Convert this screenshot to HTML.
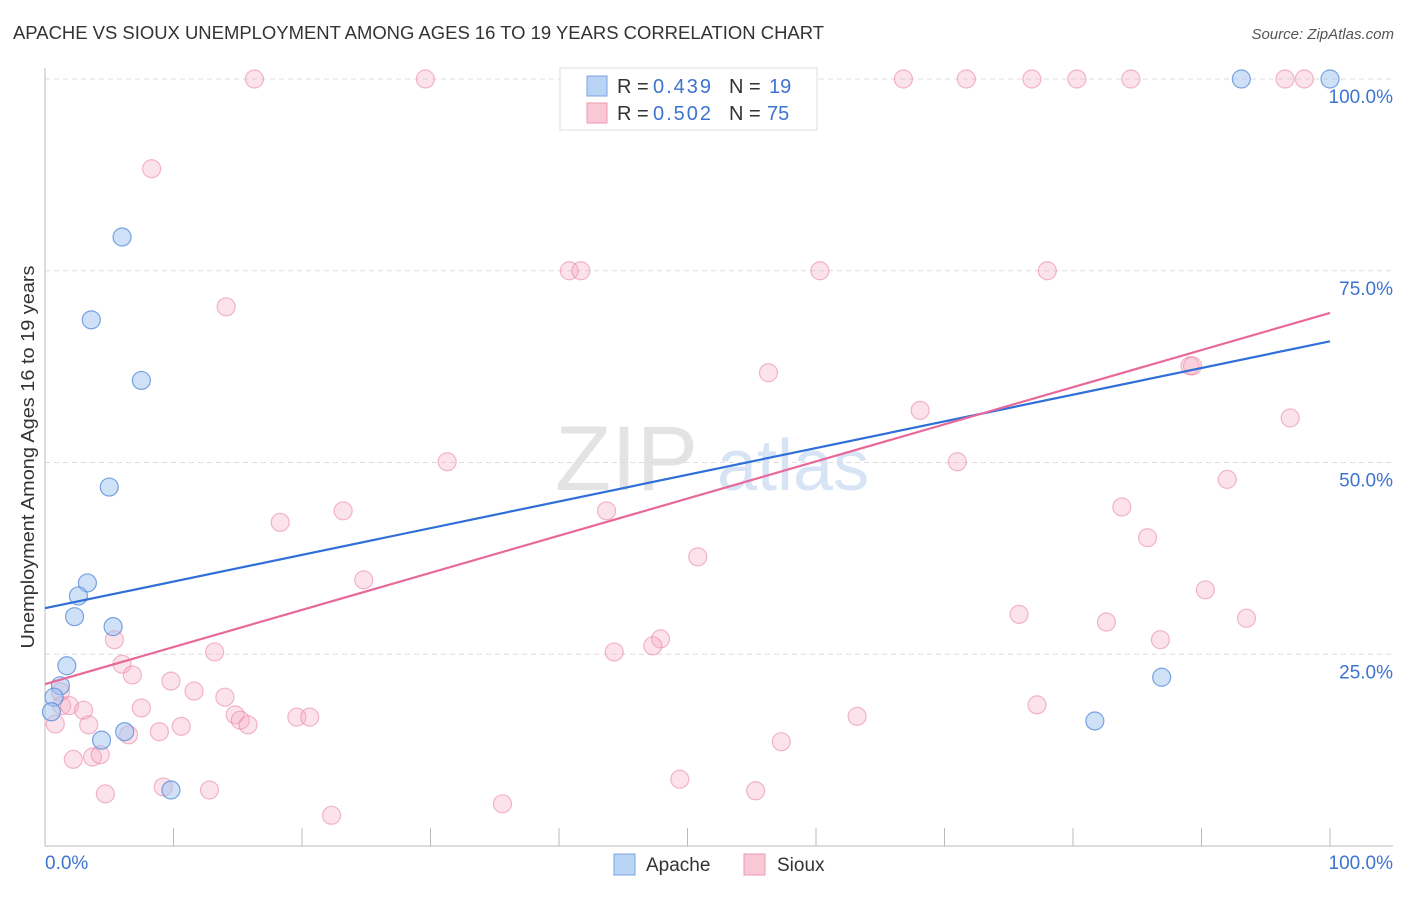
<!DOCTYPE html>
<html><head><meta charset="utf-8"><style>
body{margin:0;background:#fff;font-family:"Liberation Sans",sans-serif;}
svg text{font-family:"Liberation Sans",sans-serif;}
</style></head><body>
<svg id="chart" width="1406" height="892" viewBox="0 0 1406 892" xmlns="http://www.w3.org/2000/svg">
<text x="13" y="39" font-size="18" fill="#333" textLength="811" lengthAdjust="spacingAndGlyphs">APACHE VS SIOUX UNEMPLOYMENT AMONG AGES 16 TO 19 YEARS CORRELATION CHART</text>
<text x="1394" y="39" font-size="15" fill="#555" text-anchor="end" font-style="italic">Source: ZipAtlas.com</text>
<g><text x="555" y="490" font-size="92" fill="#e3e3e3" font-family="Liberation Serif">ZIP</text><text x="717" y="490" font-size="72" fill="#d6e4f5">atlas</text></g>
<g id="grid"></g>
<g id="axes"></g>
<g id="marks"></g>
<g id="lines"></g>
<text transform="translate(34,457) rotate(-90)" font-size="18" fill="#333" text-anchor="middle" textLength="383" lengthAdjust="spacingAndGlyphs">Unemployment Among Ages 16 to 19 years</text>
<g>
<rect x="560" y="68" width="257" height="62" fill="#fff" stroke="#ddd"/>
<rect x="587" y="76" width="20" height="20" fill="#b9d3f4" stroke="#7aa6e2"/>
<text x="617" y="93" font-size="20" fill="#333">R = </text><text x="653" y="93" font-size="20" fill="#3d74d0" textLength="58">0.439</text>
<text x="729" y="93" font-size="20" fill="#333">N = </text><text x="769" y="93" font-size="20" fill="#3d74d0">19</text>
<rect x="587" y="103" width="20" height="20" fill="#f9c8d6" stroke="#ec9ab4"/>
<text x="617" y="120" font-size="20" fill="#333">R = </text><text x="653" y="120" font-size="20" fill="#3d74d0" textLength="58">0.502</text>
<text x="729" y="120" font-size="20" fill="#333">N = </text><text x="767" y="120" font-size="20" fill="#3d74d0">75</text>
</g>
<g>
<rect x="614" y="854" width="21" height="21" fill="#b9d3f4" stroke="#7aa6e2"/>
<text x="646" y="871" font-size="19" fill="#333">Apache</text>
<rect x="744" y="854" width="21" height="21" fill="#f9c8d6" stroke="#ec9ab4"/>
<text x="777" y="871" font-size="19" fill="#333">Sioux</text>
</g>
</svg>
<script>
const apacheX=[6.0,3.6,7.5,5.0,3.3,2.6,2.3,5.3,1.7,1.2,0.7,0.5,6.2,4.4,9.8,81.7,86.9,93.1,100];
const apacheY=[79.4,68.6,60.7,46.8,34.3,32.6,29.9,28.6,23.5,20.9,19.4,17.5,14.9,13.8,7.3,16.3,22.0,100,100];
const siouxX=[16.3,29.6,51.9,54.0,66.8,71.7,76.8,80.3,84.5,96.5,98.0,8.3,14.1,40.8,41.7,60.3,78.0,56.3,89.1,89.3,68.1,96.9,31.3,71.0,92.0,18.3,23.2,43.7,83.8,85.8,50.8,24.8,90.3,75.8,82.6,93.5,86.8,5.4,47.9,47.3,13.2,44.3,6.0,6.8,9.8,11.6,14.0,1.2,1.3,1.9,3.0,7.5,14.8,15.2,15.8,19.6,20.6,63.2,77.2,3.4,10.6,8.9,6.5,0.8,2.2,3.7,4.3,4.7,9.2,12.8,35.6,22.3,49.4,55.3,57.3];
const siouxY=[100,100,100,100,100,100,100,100,100,100,100,88.3,70.3,75,75,75,75,61.7,62.6,62.6,56.8,55.8,50.1,50.1,47.8,42.2,43.7,43.7,44.2,40.2,37.7,34.7,33.4,30.2,29.2,29.7,26.9,26.9,27.0,26.1,25.3,25.3,23.7,22.3,21.5,20.2,19.4,20.1,18.3,18.3,17.7,18.0,17.1,16.4,15.8,16.8,16.8,16.9,18.4,15.8,15.6,14.9,14.5,15.9,11.3,11.6,11.9,6.8,7.7,7.3,5.5,4.0,8.7,7.2,13.6];
const trendStart=[31.0,21.1];
const trendEnd=[65.8,69.5];
const yTicks=[25,50,75,100];
const yTickLabels=["25.0%","50.0%","75.0%","100.0%"];
const xTicks=[10,20,30,40,50,60,70,80,90,100];
const NS="http://www.w3.org/2000/svg";
function sx(v){return 45+v*12.85;}
function sy(v){return 846-v*7.67;}
function mk(tag,attrs,parent){const e=document.createElementNS(NS,tag);for(const k in attrs)e.setAttribute(k,attrs[k]);document.getElementById(parent).appendChild(e);return e;}
yTicks.forEach((t,i)=>{
  const g=mk('line',{x1:45,x2:1393,y1:sy(t),y2:sy(t),stroke:'#ddd','stroke-dasharray':'5,4'},'grid');
  
  
  const l=mk('text',{x:1393,y:sy(t)+24,'font-size':19,fill:'#3d74d0','text-anchor':'end'},'grid');
  l.textContent=yTickLabels[i];
  
  
});
let a=mk('line',{x1:45,x2:45,y1:68,y2:846,stroke:'#bbb'},'axes');


a=mk('line',{x1:45,x2:1393,y1:846,y2:846,stroke:'#bbb'},'axes');


xTicks.forEach(t=>{
  const k=mk('line',{x1:sx(t),x2:sx(t),y1:828,y2:846,stroke:'#bbb'},'axes');
  
  
});
let t0=mk('text',{x:45,y:869,'font-size':19,fill:'#3d74d0'},'axes');t0.textContent='0.0%';


let t1=mk('text',{x:1393,y:869,'font-size':19,fill:'#3d74d0','text-anchor':'end'},'axes');t1.textContent='100.0%';


siouxX.forEach((x,i)=>{
  const c=mk('circle',{cx:sx(x),cy:sy(siouxY[i]),r:9,fill:'rgba(245,168,193,0.32)',stroke:'rgba(232,128,162,0.55)','stroke-width':1.2},'marks');
  
  
});
apacheX.forEach((x,i)=>{
  const c=mk('circle',{cx:sx(x),cy:sy(apacheY[i]),r:9,fill:'rgba(160,196,240,0.5)',stroke:'rgba(80,135,215,0.75)','stroke-width':1.2},'marks');
  
  
});
const cols=['#2f6fd6','#e8689a'];const nm=['apache-trendline','sioux-trendline'];
[0,1].forEach(i=>{
  const l=mk('line',{x1:sx(0),y1:sy(trendStart[i]),x2:sx(100),y2:sy(trendEnd[i]),stroke:cols[i],'stroke-width':2.2},'lines');
  
  
});
</script>
</body></html>
